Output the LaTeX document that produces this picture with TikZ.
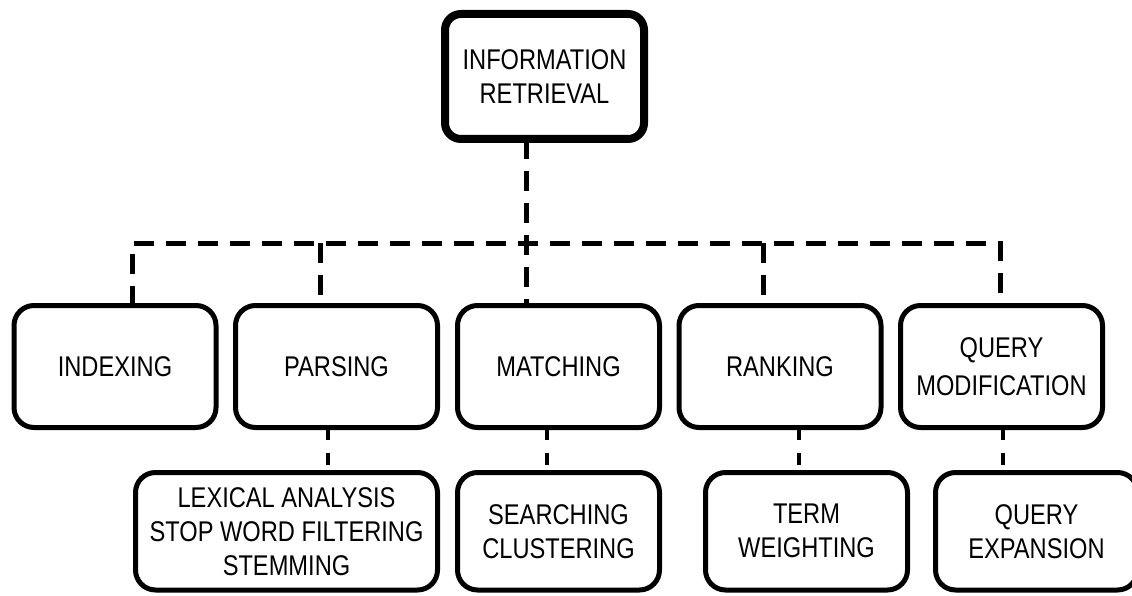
\documentclass[tikz,border=0pt]{standalone}
\usepackage{fontspec}
\setmainfont{Liberation Sans}[FakeStretch=0.83]
\begin{document}
\begin{tikzpicture}[x=1pt,y=-1pt,
  topbox/.style={draw, line width=8pt, rounded corners=16pt, minimum width=199pt, minimum height=125pt, inner sep=0pt, outer sep=0pt, align=center, font=\fontsize{28.5}{34}\selectfont},
  midbox/.style={draw, line width=5pt, rounded corners=20pt, minimum width=202pt, minimum height=122pt, inner sep=0pt, outer sep=0pt, align=center, font=\fontsize{28.5}{38}\selectfont},
  lowbox/.style={draw, line width=5pt, rounded corners=20pt, minimum width=202pt, minimum height=117.5pt, inner sep=0pt, outer sep=0pt, align=center, font=\fontsize{28.5}{34}\selectfont},
  bigdash/.style={line width=5pt, dash pattern=on 20pt off 12pt},
  smalldash/.style={line width=3.5pt, dash pattern=on 12pt off 13pt}]
\useasboundingbox (0,0) rectangle (1132,596);

\node[topbox] (ir) at (544.5,76.5) {INFORMATION\\RETRIEVAL};

\node[midbox] (indexing) at (115,366.5) {INDEXING};
\node[midbox] (parsing) at (336.5,366.5) {PARSING};
\node[midbox] (matching) at (558.5,366.5) {MATCHING};
\node[midbox] (ranking) at (780,366.5) {RANKING};
\node[midbox] (qmod) at (1001.5,366.5) {QUERY\\MODIFICATION};

\node[lowbox, minimum width=302pt] (lexical) at (286.5,531.25) {LEXICAL ANALYSIS\\STOP WORD FILTERING\\STEMMING};
\node[lowbox] (search) at (558.5,531.25) {SEARCHING\\CLUSTERING};
\node[lowbox] (term) at (806.5,531.25) {TERM\\WEIGHTING};
\node[lowbox] (qexp) at (1036.5,531.25) {QUERY\\EXPANSION};

% branch positions
\coordinate (bI) at (132,243);
\coordinate (bP) at (320,243);
\coordinate (bM) at (526,243);
\coordinate (bR) at (763,243);
\coordinate (bQ) at (1000,243);

\draw[bigdash] (ir.south -| bM) -- (matching.north -| bM);
\draw[bigdash] (indexing.north -| bI) -- (bI) -- (bQ) -- (qmod.north -| bQ);
\draw[bigdash] (bP) -- (parsing.north -| bP);
\draw[bigdash] (bR) -- (ranking.north -| bR);

\coordinate (cP) at (328,450);
\coordinate (cM) at (547,450);
\coordinate (cR) at (799,450);
\coordinate (cQ) at (1003,450);
\draw[smalldash] (parsing.south -| cP) -- (lexical.north -| cP);
\draw[smalldash] (matching.south -| cM) -- (search.north -| cM);
\draw[smalldash] (ranking.south -| cR) -- (term.north -| cR);
\draw[smalldash] (qmod.south -| cQ) -- (qexp.north -| cQ);
\end{tikzpicture}
\end{document}
